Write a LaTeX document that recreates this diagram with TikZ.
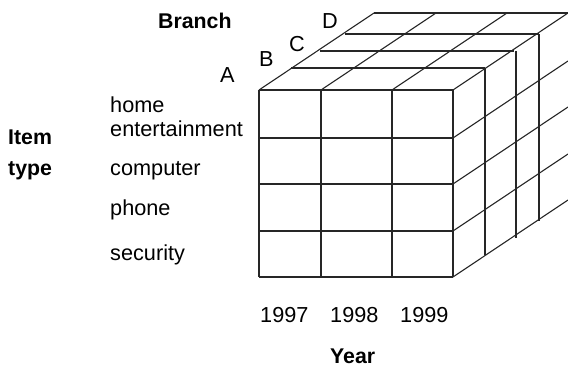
\documentclass[tikz,border=0pt]{standalone}
\usepackage{fontspec}
\setmainfont{Liberation Sans}
\begin{document}
\begin{tikzpicture}[x=1pt,y=-1pt,
  grid/.style={draw=black!85,line width=1.1pt},
  lbl/.style={font=\fontsize{21.7}{24}\selectfont, inner sep=0pt, anchor=base west},
  blbl/.style={font=\fontsize{21.3}{24}\selectfont\bfseries, inner sep=0pt, anchor=base west}]
\useasboundingbox (0,0) rectangle (568,366);
% front face
\foreach \x in {259,321,392,453} \draw[grid] (\x,90) -- (\x,277);
\foreach \y in {90,138,184,231,277} \draw[grid] (259,\y) -- (453,\y);
% top face
\foreach \dx/\dy in {32/-22,61/-39,86/-56,115/-77}
  \draw[grid] ({259+\dx},{90+(\dy)}) -- ({453+\dx},{90+(\dy)});
\foreach \x in {259,321,392,453} \draw[grid] (\x,90) -- ++(115,-77);
% right face
\foreach \y in {138,184,231,277} \draw[grid] (453,\y) -- ++(115,-77);
\foreach \dx/\dy in {32/-22,63/-39,86/-56}
  \draw[grid] ({453+\dx},{90+(\dy)}) -- ({453+\dx},{277+(\dy)});
% labels
\node[blbl] (branch) at (158,29) {Branch};
\node[lbl] (la) at (220,83) {A};
\node[lbl] (lb) at (259,67) {B};
\node[lbl] (lc) at (289,52) {C};
\node[lbl] (ld) at (322,29) {D};
\node[blbl] (item) at (8,145) {Item};
\node[blbl] (type) at (8,176) {type};
\node[lbl] (home) at (110,113) {home};
\node[lbl] (ent) at (110,137) {entertainment};
\node[lbl] (comp) at (110,176) {computer};
\node[lbl] (phone) at (110,216) {phone};
\node[lbl] (sec) at (110,261) {security};
\node[lbl] (y7) at (260,323) {1997};
\node[lbl] (y8) at (330,323) {1998};
\node[lbl] (y9) at (400,323) {1999};
\node[blbl] (year) at (330,363) {Year};
\end{tikzpicture}
\end{document}
